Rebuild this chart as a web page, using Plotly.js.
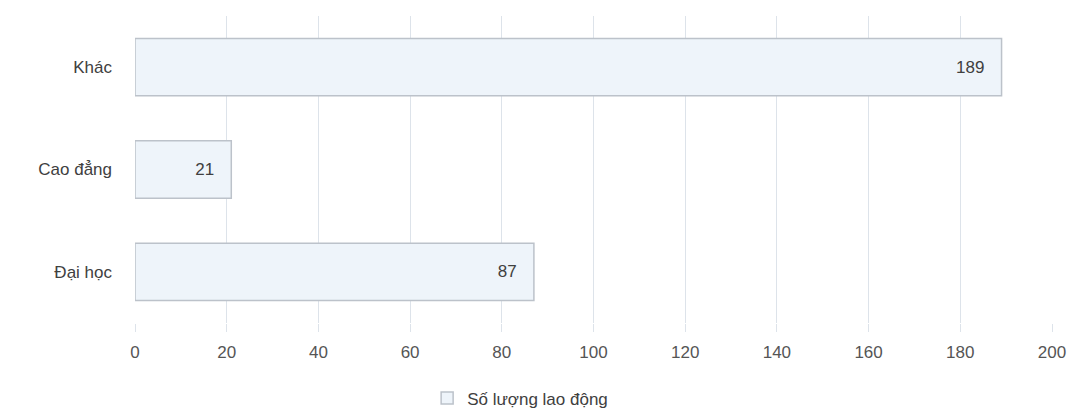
<!DOCTYPE html>
<html><head><meta charset="utf-8">
<script src="https://cdn.plot.ly/plotly-3.0.1.min.js"></script>
<style>body{margin:0;background:#fff}#c{width:1089px;height:415px}</style>
</head><body><div id="c"></div>
<script>
const categories = ["Đại học", "Cao đẳng", "Khác"];
const values = [87, 21, 189];
const seriesName = "Số lượng lao động";
const tickVals = [0, 20, 40, 60, 80, 100, 120, 140, 160, 180, 200];

const pad = "\u00a0\u00a0\u00a0";
const trace = {
  type: "bar", orientation: "h",
  y: categories, x: values, name: seriesName,
  text: values.map(v => String(v) + pad), textposition: "inside", insidetextanchor: "end",
  textfont: {family: "Liberation Sans, Arial, sans-serif", size: 17, color: "#404040"},
  marker: {color: "#eef4fa", line: {color: "#bcc2ca", width: 1.5}},
  showlegend: true
};
const layout = {
  width: 1089, height: 415,
  margin: {l: 135, r: 37, t: 16, b: 92},
  paper_bgcolor: "#fff", plot_bgcolor: "#fff",
  bargap: 0.44,
  font: {family: "Liberation Sans, Arial, sans-serif", size: 17, color: "#404040"},
  xaxis: {range: [0, 200], tickvals: tickVals, showgrid: true, gridcolor: "#dde3ea", gridwidth: 1,
    zeroline: false, showline: false, ticks: "outside", ticklen: 8, tickcolor: "#dde3ea",
    tickfont: {size: 17, color: "#555"}, automargin: false, ticklabelstandoff: 6},
  yaxis: {showgrid: false, zeroline: false, showline: false, ticks: "", ticklabelstandoff: 22,
    tickfont: {size: 17, color: "#404040"}, automargin: false},
  legend: {orientation: "h", x: 0.42, xanchor: "center", yref: "container", y: 0.04, yanchor: "middle",
    font: {size: 17, color: "#404040"}},
  showlegend: true
};
Plotly.newPlot("c", [trace], layout, {displayModeBar: false, staticPlot: true});
</script></body></html>
